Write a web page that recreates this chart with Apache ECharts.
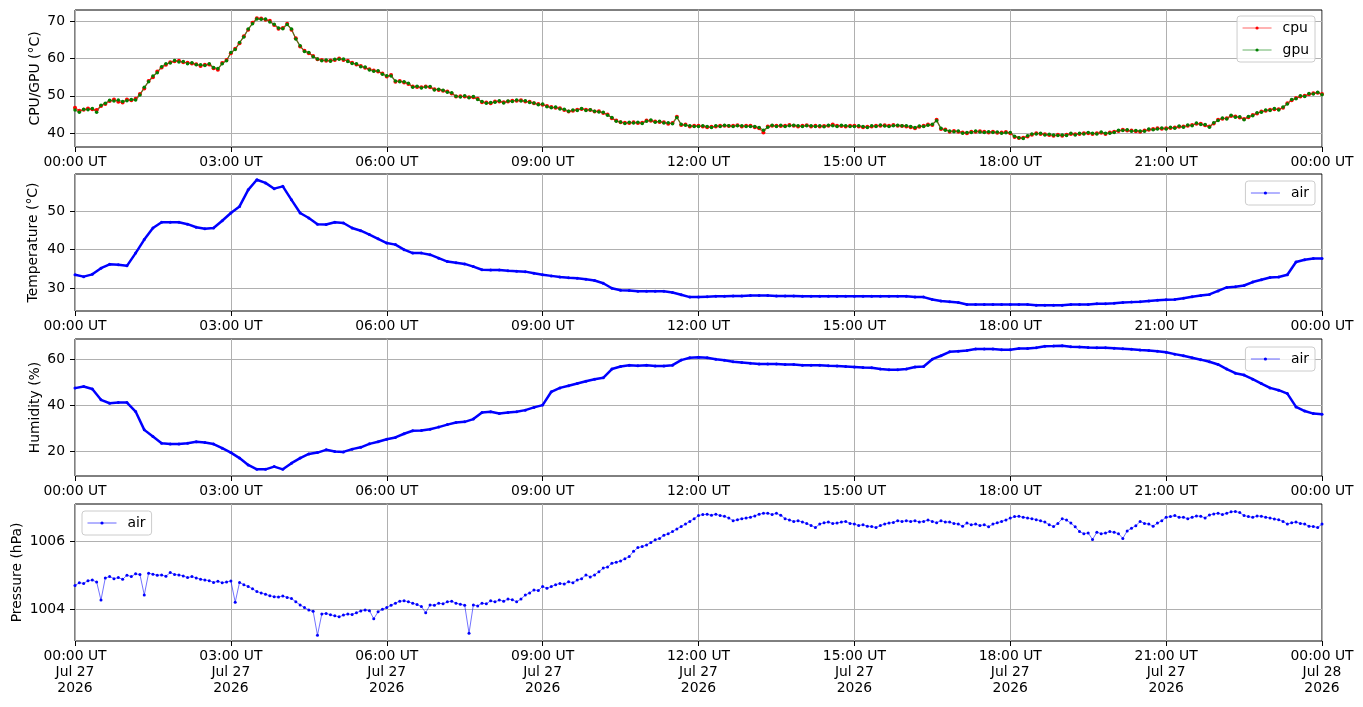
<!DOCTYPE html>
<html>
<head>
<meta charset="utf-8">
<script src="https://cdn.jsdelivr.net/npm/echarts@6.0.0/dist/echarts.min.js"></script>
<style>
  html, body { margin: 0; padding: 0; background: #fff; }
  #chart { width: 1363px; height: 707px; }
</style>
</head>
<body>
<div id="chart"></div>
<script>
// tick labels
const xTickLabels = ['00:00 UT', '03:00 UT', '06:00 UT', '09:00 UT', '12:00 UT', '15:00 UT', '18:00 UT', '21:00 UT', '00:00 UT'];
const dateLabels = ['Jul 27', 'Jul 27', 'Jul 27', 'Jul 27', 'Jul 27', 'Jul 27', 'Jul 27', 'Jul 27', 'Jul 28'];
const yearLabels = ['2026', '2026', '2026', '2026', '2026', '2026', '2026', '2026', '2026'];
const cpuTicks = [40, 50, 60, 70];
const tempTicks = [30, 40, 50];
const humTicks = [20, 40, 60];
const presTicks = [1004, 1006];

// cpu / gpu / pressure: one value every 5 minutes, 00:00 .. 24:00
const cpu = [
  46.8, 46.0, 46.3, 46.6, 46.4, 46.2, 47.3, 47.8, 48.6, 49.0, 48.4, 48.2,
  49.0, 48.8, 49.2, 50.5, 52.0, 54.0, 55.0, 56.5, 57.6, 58.3, 59.0, 59.3,
  59.4, 59.0, 58.9, 58.7, 58.5, 58.0, 58.3, 58.4, 57.4, 57.0, 58.8, 59.6,
  61.4, 62.6, 64.1, 66.0, 67.7, 69.6, 70.8, 70.7, 70.4, 70.1, 69.0, 68.0,
  68.2, 69.3, 67.7, 65.4, 63.2, 62.1, 61.4, 60.7, 59.8, 59.6, 59.4, 59.5,
  59.6, 60.0, 59.6, 59.4, 58.9, 58.4, 58.0, 57.5, 57.1, 56.8, 56.5, 56.0,
  55.2, 55.6, 53.8, 54.0, 53.6, 53.2, 52.5, 52.4, 52.3, 52.5, 52.3, 51.8,
  51.6, 51.4, 51.2, 50.6, 49.8, 49.9, 49.8, 49.6, 49.6, 49.2, 48.3, 48.2,
  48.0, 48.5, 48.5, 48.3, 48.5, 48.7, 48.7, 48.8, 48.5, 48.4, 48.0, 47.8,
  47.6, 47.3, 47.0, 46.8, 46.7, 46.2, 45.8, 46.0, 46.3, 46.5, 46.3, 46.2,
  45.8, 45.9, 45.4, 45.0, 44.0, 43.4, 42.9, 42.8, 42.7, 42.9, 42.7, 42.8,
  43.4, 43.3, 43.1, 43.0, 42.9, 42.5, 42.7, 44.4, 42.2, 42.3, 41.8, 42.0,
  42.0, 41.8, 41.6, 41.7, 41.8, 42.0, 42.0, 41.9, 42.0, 42.1, 41.8, 42.0,
  42.0, 41.6, 41.3, 40.2, 41.8, 42.0, 42.0, 41.9, 42.0, 42.2, 42.0, 41.8,
  42.0, 42.1, 41.8, 42.0, 41.8, 41.9, 42.0, 42.3, 42.0, 41.9, 41.8, 42.0,
  42.0, 41.8, 41.6, 41.7, 41.8, 42.0, 42.0, 42.1, 42.0, 42.2, 42.0, 41.9,
  41.8, 41.6, 41.3, 41.7, 42.0, 42.3, 42.2, 43.6, 41.1, 41.0, 40.4, 40.6,
  40.4, 40.2, 40.0, 40.4, 40.4, 40.5, 40.4, 40.2, 40.4, 40.1, 40.2, 40.3,
  40.0, 39.0, 38.7, 38.8, 39.1, 39.6, 40.0, 39.8, 39.7, 39.5, 39.3, 39.6,
  39.3, 39.6, 39.8, 39.7, 39.8, 40.0, 40.0, 39.8, 40.0, 40.1, 39.8, 40.2,
  40.4, 40.6, 40.9, 40.7, 40.7, 40.5, 40.4, 40.7, 40.9, 41.1, 41.3, 41.2,
  41.3, 41.4, 41.5, 41.7, 41.8, 42.0, 42.2, 42.5, 42.5, 42.1, 41.8, 42.6,
  43.6, 43.9, 44.0, 44.6, 44.5, 44.2, 43.8, 44.3, 44.9, 45.3, 45.8, 46.0,
  46.3, 46.4, 46.4, 46.8, 48.0, 48.8, 49.4, 49.8, 50.0, 50.4, 50.7, 50.8,
  50.5
];
const gpu = [
  46.2, 45.6, 46.4, 46.3, 46.6, 45.6, 47.5, 48.0, 48.8, 48.6, 48.9, 48.5,
  48.7, 49.0, 48.9, 50.2, 52.3, 53.8, 55.3, 56.2, 57.8, 58.6, 58.8, 59.5,
  59.1, 59.2, 58.6, 58.9, 58.3, 58.3, 58.1, 58.6, 57.6, 57.3, 58.6, 59.4,
  61.6, 62.4, 64.3, 65.8, 67.9, 69.3, 70.6, 70.5, 70.6, 69.8, 69.2, 68.2,
  68.0, 69.1, 67.9, 65.2, 63.4, 61.9, 61.6, 60.5, 59.9, 59.4, 59.6, 59.3,
  59.8, 59.8, 59.9, 59.2, 58.7, 58.6, 57.8, 57.7, 56.9, 56.6, 56.7, 55.8,
  55.4, 55.3, 54.0, 53.8, 53.8, 53.4, 52.3, 52.6, 52.1, 52.4, 52.5, 51.6,
  51.8, 51.5, 51.0, 50.8, 49.9, 49.7, 50.0, 49.5, 49.8, 49.0, 48.5, 48.0,
  48.2, 48.3, 48.7, 48.1, 48.6, 48.5, 48.9, 48.6, 48.7, 48.2, 48.1, 47.6,
  47.8, 47.1, 46.8, 47.0, 46.5, 46.4, 45.9, 46.2, 46.1, 46.6, 46.1, 46.3,
  45.9, 45.7, 45.6, 44.8, 44.2, 43.2, 43.0, 42.6, 42.9, 42.7, 42.9, 42.6,
  43.2, 43.5, 42.9, 43.2, 42.7, 42.8, 42.5, 44.2, 42.4, 42.1, 42.0, 41.8,
  41.8, 42.0, 41.8, 41.5, 42.0, 41.8, 42.1, 42.0, 41.8, 42.0, 42.0, 41.8,
  41.8, 41.8, 41.5, 40.8, 41.6, 42.1, 41.8, 42.1, 41.8, 42.0, 42.1, 42.0,
  41.8, 42.0, 42.0, 41.8, 42.0, 41.7, 42.1, 42.0, 41.8, 42.1, 42.0, 41.8,
  41.8, 42.0, 41.8, 41.5, 42.0, 41.8, 42.2, 41.9, 41.8, 42.0, 42.1, 42.0,
  42.0, 41.8, 41.5, 41.9, 41.8, 42.1, 42.4, 43.3, 41.3, 40.8, 40.6, 40.4,
  40.6, 40.0, 40.2, 40.2, 40.6, 40.3, 40.2, 40.4, 40.2, 40.3, 40.0, 40.1,
  40.2, 39.2, 38.8, 38.6, 39.3, 39.8, 39.8, 40.0, 39.5, 39.7, 39.5, 39.4,
  39.5, 39.4, 40.0, 39.5, 40.0, 39.8, 40.2, 40.0, 39.8, 40.3, 40.0, 40.0,
  40.2, 40.8, 40.7, 40.9, 40.5, 40.7, 40.6, 40.5, 41.1, 40.9, 41.1, 41.4,
  41.1, 41.6, 41.3, 41.9, 41.6, 42.2, 42.0, 42.7, 42.3, 42.3, 41.6, 42.8,
  43.4, 44.1, 43.8, 44.8, 44.3, 44.4, 43.6, 44.5, 44.7, 45.5, 45.6, 46.2,
  46.1, 46.6, 46.2, 47.0, 47.8, 49.0, 49.2, 50.0, 49.8, 50.6, 50.5, 51.0,
  50.3
];
const pressure = [
  1004.70, 1004.78, 1004.76, 1004.84, 1004.86, 1004.80, 1004.27, 1004.92, 1004.96, 1004.90, 1004.93, 1004.88,
  1005.00, 1004.96, 1005.04, 1005.02, 1004.42, 1005.06, 1005.03, 1005.00, 1005.01, 1004.97, 1005.08, 1005.02,
  1005.01, 1004.98, 1004.93, 1004.96, 1004.92, 1004.88, 1004.86, 1004.84, 1004.79, 1004.82, 1004.78, 1004.80,
  1004.83, 1004.21, 1004.79, 1004.72, 1004.67, 1004.60, 1004.52, 1004.48, 1004.44, 1004.40, 1004.37, 1004.36,
  1004.39, 1004.35, 1004.32, 1004.22, 1004.13, 1004.05, 1003.98, 1003.94, 1003.24, 1003.86, 1003.88, 1003.84,
  1003.81, 1003.78, 1003.83, 1003.86, 1003.85, 1003.90, 1003.95, 1003.98, 1003.96, 1003.72, 1003.93, 1004.00,
  1004.05, 1004.12, 1004.18, 1004.24, 1004.25, 1004.22, 1004.18, 1004.14, 1004.08, 1003.90, 1004.13, 1004.12,
  1004.18, 1004.16, 1004.22, 1004.24, 1004.18, 1004.15, 1004.12, 1003.30, 1004.13, 1004.10, 1004.18, 1004.16,
  1004.25, 1004.22, 1004.27, 1004.24, 1004.30, 1004.28, 1004.22, 1004.30, 1004.42, 1004.48, 1004.57, 1004.55,
  1004.67, 1004.62, 1004.67, 1004.72, 1004.76, 1004.74, 1004.81, 1004.78, 1004.86, 1004.90, 1005.01, 1004.95,
  1005.01, 1005.10, 1005.21, 1005.24, 1005.35, 1005.38, 1005.42, 1005.48, 1005.55, 1005.70, 1005.81, 1005.84,
  1005.89, 1005.96, 1006.04, 1006.08, 1006.17, 1006.22, 1006.28, 1006.36, 1006.43, 1006.50, 1006.58, 1006.66,
  1006.75, 1006.78, 1006.79, 1006.76, 1006.79, 1006.75, 1006.73, 1006.68, 1006.60, 1006.63, 1006.66, 1006.68,
  1006.70, 1006.74, 1006.79, 1006.82, 1006.82, 1006.78, 1006.82, 1006.76, 1006.66, 1006.62, 1006.58, 1006.60,
  1006.56, 1006.52, 1006.46, 1006.40, 1006.50, 1006.54, 1006.56, 1006.52, 1006.53, 1006.56, 1006.58, 1006.52,
  1006.50, 1006.46, 1006.48, 1006.44, 1006.43, 1006.40, 1006.46, 1006.50, 1006.53, 1006.55, 1006.60, 1006.58,
  1006.60, 1006.58, 1006.60, 1006.56, 1006.58, 1006.62, 1006.58, 1006.54, 1006.60, 1006.56, 1006.56, 1006.52,
  1006.50, 1006.44, 1006.53, 1006.48, 1006.50, 1006.46, 1006.48, 1006.42, 1006.50, 1006.54, 1006.58, 1006.62,
  1006.68, 1006.72, 1006.73, 1006.70, 1006.68, 1006.66, 1006.63, 1006.60, 1006.56, 1006.48, 1006.43, 1006.52,
  1006.66, 1006.62, 1006.53, 1006.42, 1006.28, 1006.22, 1006.24, 1006.05, 1006.26, 1006.22, 1006.24, 1006.28,
  1006.26, 1006.22, 1006.08, 1006.30, 1006.38, 1006.45, 1006.58, 1006.52, 1006.50, 1006.44, 1006.53, 1006.60,
  1006.70, 1006.72, 1006.75, 1006.70, 1006.70, 1006.66, 1006.70, 1006.74, 1006.73, 1006.68, 1006.77, 1006.80,
  1006.82, 1006.78, 1006.82, 1006.86, 1006.87, 1006.84, 1006.75, 1006.72, 1006.70, 1006.74, 1006.73, 1006.70,
  1006.68, 1006.65, 1006.63, 1006.58, 1006.50, 1006.54, 1006.56, 1006.52, 1006.50, 1006.44, 1006.43, 1006.40,
  1006.50
];

// air temperature / humidity: one value every 10 minutes, 00:00 .. 24:00
const airTemp = [
  33.5, 33.0, 33.6, 35.2, 36.2, 36.1,
  35.8, 39.1, 42.6, 45.6, 47.1, 47.1,
  47.1, 46.6, 45.8, 45.4, 45.6, 47.5,
  49.5, 51.2, 55.5, 58.1, 57.3, 55.8,
  56.4, 52.9, 49.5, 48.2, 46.6, 46.5,
  47.1, 46.9, 45.6, 44.9, 43.9, 42.8,
  41.7, 41.3, 40.0, 39.1, 39.1, 38.7,
  37.8, 36.9, 36.6, 36.3, 35.6, 34.8,
  34.7, 34.7, 34.5, 34.4, 34.3, 33.9,
  33.5, 33.2, 32.9, 32.7, 32.6, 32.3,
  32.0, 31.3, 30.0, 29.5, 29.4, 29.2,
  29.2, 29.2, 29.2, 28.9, 28.3, 27.7,
  27.7, 27.8, 27.9, 27.9, 28.0, 28.0,
  28.1, 28.1, 28.1, 28.0, 28.0, 28.0,
  27.9, 27.9, 27.9, 27.9, 27.9, 27.9,
  27.9, 27.9, 27.9, 27.9, 27.9, 27.9,
  27.9, 27.7, 27.7, 27.1, 26.7, 26.5,
  26.3, 25.8, 25.8, 25.8, 25.8, 25.8,
  25.8, 25.8, 25.8, 25.6, 25.6, 25.6,
  25.6, 25.8, 25.8, 25.8, 26.0, 26.0,
  26.1, 26.3, 26.4, 26.5, 26.7, 26.9,
  27.0, 27.1, 27.4, 27.8, 28.1, 28.4,
  29.3, 30.2, 30.4, 30.7, 31.6, 32.2,
  32.8, 32.9, 33.5, 36.8, 37.4, 37.7,
  37.7
];
const humidity = [
  47.5, 48.2, 47.1, 42.4, 40.9, 41.2,
  41.2, 37.3, 29.3, 26.4, 23.5, 23.1,
  23.1, 23.5, 24.1, 23.8, 23.1, 21.3,
  19.4, 17.0, 14.0, 12.1, 12.1, 13.3,
  12.1, 14.8, 17.0, 18.8, 19.4, 20.6,
  19.9, 19.7, 20.9, 21.7, 23.2, 24.1,
  25.2, 26.0, 27.6, 28.9, 29.0, 29.6,
  30.5, 31.6, 32.5, 32.8, 34.0, 36.9,
  37.2, 36.4, 36.9, 37.2, 37.9, 39.1,
  40.1, 45.9, 47.6, 48.5, 49.5, 50.5,
  51.4, 52.0, 55.8, 56.9, 57.5, 57.2,
  57.5, 57.1, 57.1, 57.5, 59.7, 60.7,
  60.9, 60.7, 60.1, 59.6, 59.0, 58.7,
  58.3, 58.0, 58.0, 58.0, 57.8, 57.8,
  57.5, 57.5, 57.5, 57.2, 57.1, 56.9,
  56.7, 56.5, 56.4, 55.8, 55.5, 55.5,
  55.8, 56.7, 56.9, 60.1, 61.6, 63.3,
  63.6, 63.9, 64.5, 64.5, 64.5, 64.2,
  64.2, 64.8, 64.8, 65.1, 65.7, 65.8,
  66.0, 65.5, 65.4, 65.2, 65.1, 65.1,
  64.9, 64.7, 64.4, 64.1, 63.9, 63.6,
  63.1, 62.3, 61.6, 60.7, 59.9, 59.0,
  57.8, 55.8, 54.0, 53.2, 51.4, 49.5,
  47.6, 46.6, 45.1, 39.3, 37.5, 36.4,
  36.1
];

const FONT = 'DejaVu Sans';
const FS = 13.9;

function withTime(values, step) {
  return values.map((v, i) => [i * step, v]);
}

const panels = [
  { top: 10, name: 'CPU/GPU (°C)', min: 36.3, max: 73.0, split: 4, ticks: cpuTicks, gap: 33 },
  { top: 174, name: 'Temperature (°C)', min: 24.1, max: 59.6, split: 4, ticks: tempTicks, gap: 34.5 },
  { top: 339, name: 'Humidity (%)', min: 9.2, max: 68.9, split: 3, ticks: humTicks, gap: 33 },
  { top: 504, name: 'Pressure (hPa)', min: 1003.07, max: 1007.09, split: 2, ticks: presTicks, gap: 50.5 }
];

const chart = echarts.init(document.getElementById('chart'));

const legendBase = {
  orient: 'vertical',
  itemWidth: 29,
  itemHeight: 4,
  itemGap: 8,
  padding: [5, 6, 5, 5],
  backgroundColor: 'rgba(255,255,255,0.8)',
  borderColor: '#cccccc',
  borderWidth: 1,
  borderRadius: 3,
  lineStyle: { width: 1, opacity: 0.6 },
  textStyle: { fontFamily: FONT, fontSize: FS, color: '#000', padding: [0, 0, 0, 6] }
};

function lineSeries(name, data, idx, color, lineWidth, lineOpacity, size) {
  return {
    name: name,
    type: 'line',
    xAxisIndex: idx,
    yAxisIndex: idx,
    data: data,
    symbol: 'circle',
    symbolSize: size,
    showSymbol: true,
    itemStyle: { color: color },
    lineStyle: { color: color, width: lineWidth, opacity: lineOpacity },
    emphasis: { disabled: true },
    animation: false
  };
}

chart.setOption({
  animation: false,
  textStyle: { fontFamily: FONT },
  grid: panels.map(p => ({
    left: 75, width: 1247, top: p.top, height: 137,
    outerBoundsMode: 'none',
    containLabel: false,
    show: true, borderColor: '#000', borderWidth: 1, backgroundColor: 'transparent'
  })),
  xAxis: panels.map((p, i) => ({
    type: 'value',
    gridIndex: i,
    min: 0,
    max: 1440,
    interval: 180,
    axisLine: { show: false },
    axisTick: { show: true, length: 5, lineStyle: { color: '#000', width: 1 } },
    axisLabel: {
      margin: 7,
      color: '#000',
      fontFamily: FONT,
      fontSize: FS,
      lineHeight: 16.3,
      showMinLabel: true,
      showMaxLabel: true,
      formatter: v => {
        const k = Math.round(v / 180);
        if (i < 3) return xTickLabels[k];
        return xTickLabels[k] + '\n' + dateLabels[k] + '\n' + yearLabels[k];
      }
    },
    splitLine: { show: true, lineStyle: { color: '#b0b0b0', width: 1 } }
  })),
  yAxis: panels.map((p, i) => ({
    type: 'value',
    gridIndex: i,
    min: p.min,
    max: p.max,
    splitNumber: p.split,
    name: p.name,
    nameLocation: 'middle',
    nameGap: p.gap,
    nameMoveOverlap: false,
    nameTextStyle: { fontFamily: FONT, fontSize: FS, color: '#000' },
    axisLine: { show: false },
    axisTick: { show: true, length: 5, customValues: p.ticks, lineStyle: { color: '#000', width: 1 } },
    axisLabel: {
      customValues: p.ticks, margin: 10, color: '#000', fontFamily: FONT, fontSize: FS,
      formatter: v => String(v)
    },
    splitLine: { show: true, lineStyle: { color: '#b0b0b0', width: 1 } }
  })),
  legend: [
    Object.assign({}, legendBase, { data: ['cpu', 'gpu'], right: 48, top: 16 }),
    Object.assign({}, legendBase, { data: ['air'], right: 48, top: 181 }),
    Object.assign({}, legendBase, { data: ['air'], right: 48, top: 347 }),
    Object.assign({}, legendBase, { data: ['air'], left: 82, top: 511 })
  ],
  series: [
    lineSeries('cpu', withTime(cpu, 5), 0, '#ff0000', 1.2, 0.7, 4),
    lineSeries('gpu', withTime(gpu, 5), 0, '#008000', 1.2, 0.7, 3.5),
    lineSeries('air', withTime(airTemp, 10), 1, '#0000ff', 2.5, 1, 3),
    lineSeries('air', withTime(humidity, 10), 2, '#0000ff', 2.5, 1, 3),
    lineSeries('air', withTime(pressure, 5), 3, '#0000ff', 0.8, 0.7, 3)
  ]
});
</script>
</body>
</html>
